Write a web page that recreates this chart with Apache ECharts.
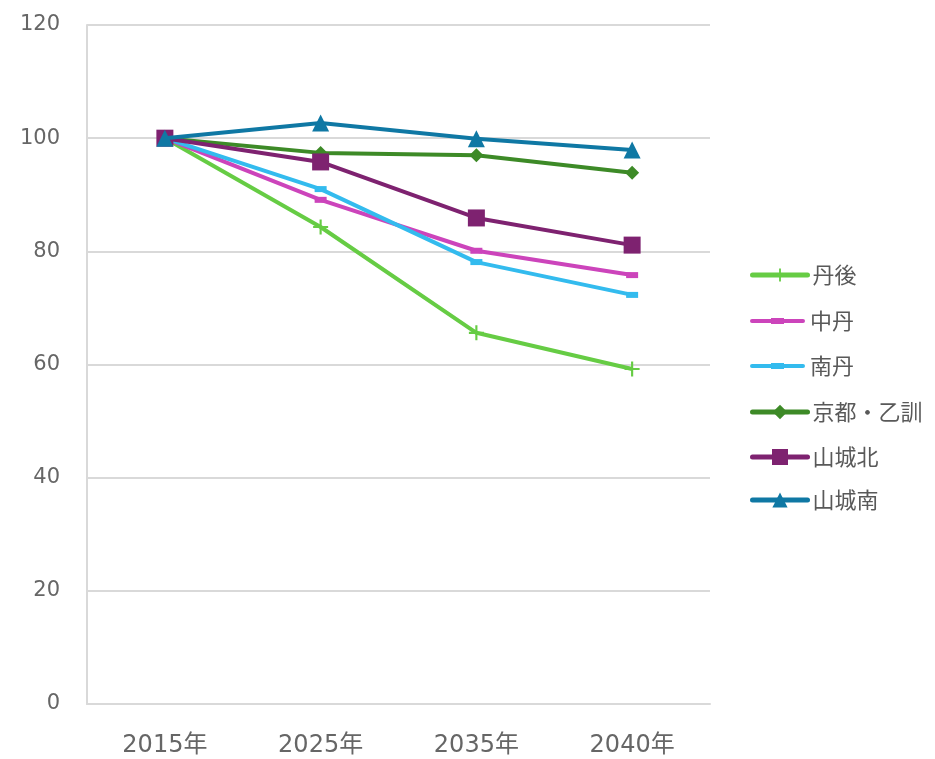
<!DOCTYPE html>
<html><head><meta charset="utf-8">
<script src="https://cdn.jsdelivr.net/npm/echarts@6/dist/echarts.min.js"></script>
<style>html,body{margin:0;padding:0;background:#fff}#c{width:935px;height:759px}</style>
</head><body><div id="c"></div>
<script>
const categories = ['2015年', '2025年', '2035年', '2040年'];
const seriesNames = ['丹後', '中丹', '南丹', '京都・乙訓', '山城北', '山城南'];
const tango = [100, 84.3, 65.6, 59.2];
const chutan = [100, 89.1, 80.1, 75.8];
const nantan = [100, 91.0, 78.1, 72.3];
const kyotoOtokuni = [100, 97.4, 97.0, 93.9];
const yamashiroKita = [100, 95.8, 85.9, 81.1];
const yamashiroMinami = [100, 102.7, 99.9, 97.9];
const yTicks = [0, 20, 40, 60, 80, 100, 120];

const colors = ['#66cc44', '#cc44bb', '#33bbee', '#3d8a27', '#7e2270', '#0f78a4'];
const plus = 'path://M6,0H8V6H14V8H8V14H6V8H0V6H6Z';
const dashIcon = 'path://M2,1H53A2,2 0 0 1 53,5H2A2,2 0 0 1 2,1Z M21,0H34V6H21Z';
const symbols = [plus, 'rect', 'rect', 'diamond', 'rect', 'triangle'];
const sizes = [15, [12, 6], [12, 6], 14, 17, 17];
const dataArr = [tango, chutan, nantan, kyotoOtokuni, yamashiroKita, yamashiroMinami];

// legend rows
const legendCenters = [275, 321, 366, 412, 457, 500];
const legendItemH = [16, 6, 6, 18, 20, 19];
const legendIcons = [null, dashIcon, dashIcon, null, null, null];

const legends = seriesNames.map((n, i) => {
  const item = {name: n};
  if (legendIcons[i]) item.icon = legendIcons[i];
  return {
    orient: 'vertical', left: 750, top: legendCenters[i] - 13, padding: 0,
    itemWidth: 55, itemHeight: legendItemH[i],
    lineStyle: {width: 5, cap: 'round'},
    textStyle: {fontSize: 22, lineHeight: 26, color: '#595959', fontFamily: 'Noto Sans CJK JP'},
    data: [item]
  };
});

const chart = echarts.init(document.getElementById('c'));
chart.setOption({
  animation: false,
  color: colors,
  grid: {left: 87, right: 225, top: 25, bottom: 55},
  legend: legends,
  xAxis: {
    type: 'category', data: categories, boundaryGap: true,
    axisLine: {show: true, lineStyle: {color: '#d9d9d9', width: 2}},
    axisTick: {show: false},
    axisLabel: {fontSize: 24, color: '#666666', margin: 30, fontFamily: 'DejaVu Sans, Noto Sans CJK JP'}
  },
  yAxis: {
    type: 'value', min: yTicks[0], max: yTicks[yTicks.length - 1], interval: 20,
    axisLine: {show: true, lineStyle: {color: '#d9d9d9', width: 2}},
    axisTick: {show: false},
    splitLine: {lineStyle: {color: '#d9d9d9', width: 2}},
    axisLabel: {fontSize: 21, color: '#666666', margin: 27, fontFamily: 'DejaVu Sans, Noto Sans CJK JP'}
  },
  series: seriesNames.map((n, i) => ({
    name: n, type: 'line', data: dataArr[i],
    symbol: symbols[i], symbolSize: sizes[i], showAllSymbol: true,
    lineStyle: {width: 4, color: colors[i]},
    itemStyle: {color: colors[i]},
    z: 2 + i
  }))
});
</script></body></html>
